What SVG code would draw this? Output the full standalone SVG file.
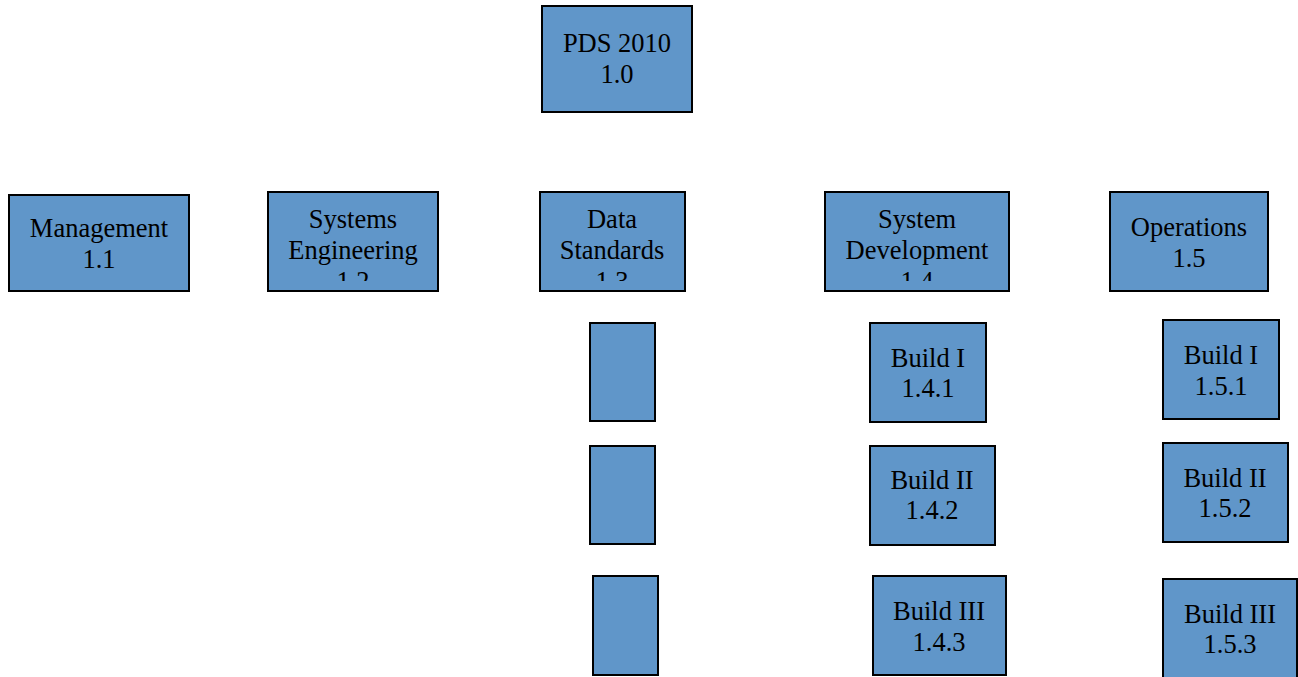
<svg xmlns="http://www.w3.org/2000/svg" width="1298" height="677" viewBox="0 0 1298 677">
<style>
.b{fill:#6096c9;stroke:#000;stroke-width:2}
.t{font-family:"Liberation Serif","Times New Roman",serif;font-size:26.5px;fill:#000;text-anchor:middle}
</style>
<defs>
<clipPath id="c12"><rect x="268" y="192" width="170" height="89"/></clipPath>
<clipPath id="c13"><rect x="540" y="192" width="145" height="89"/></clipPath>
<clipPath id="c14"><rect x="825" y="192" width="184" height="89"/></clipPath>
</defs>
<rect width="1298" height="677" fill="#fff"/>
<g id="connectors"></g>
<g id="n10"><rect class="b" x="542" y="6" width="150" height="106"/><text class="t" x="617" y="52">PDS 2010</text><text class="t" x="617" y="83">1.0</text></g>
<g id="n11"><rect class="b" x="9" y="195" width="180" height="96"/><text class="t" x="99" y="237">Management</text><text class="t" x="99" y="268">1.1</text></g>
<g id="n12"><rect class="b" x="268" y="192" width="170" height="99"/><g clip-path="url(#c12)"><text class="t" x="353" y="228">Systems</text><text class="t" x="353" y="259">Engineering</text><text class="t" x="353" y="290">1.2</text></g></g>
<g id="n13"><rect class="b" x="540" y="192" width="145" height="99"/><g clip-path="url(#c13)"><text class="t" x="612" y="228">Data</text><text class="t" x="612" y="259">Standards</text><text class="t" x="612" y="290">1.3</text></g></g>
<g id="n14"><rect class="b" x="825" y="192" width="184" height="99"/><g clip-path="url(#c14)"><text class="t" x="917" y="228">System</text><text class="t" x="917" y="259">Development</text><text class="t" x="917" y="290">1.4</text></g></g>
<g id="n15"><rect class="b" x="1110" y="192" width="158" height="99"/><text class="t" x="1189" y="236">Operations</text><text class="t" x="1189" y="267">1.5</text></g>
<g id="n131"><rect class="b" x="590" y="323" width="65" height="98"/></g>
<g id="n132"><rect class="b" x="590" y="446" width="65" height="98"/></g>
<g id="n133"><rect class="b" x="593" y="576" width="65" height="99"/></g>
<g id="n141"><rect class="b" x="870" y="323" width="116" height="99"/><text class="t" x="928" y="367">Build I</text><text class="t" x="928" y="397">1.4.1</text></g>
<g id="n142"><rect class="b" x="870" y="446" width="125" height="99"/><text class="t" x="932" y="489">Build II</text><text class="t" x="932" y="519">1.4.2</text></g>
<g id="n143"><rect class="b" x="873" y="576" width="133" height="99"/><text class="t" x="939" y="620">Build III</text><text class="t" x="939" y="651">1.4.3</text></g>
<g id="n151"><rect class="b" x="1163" y="320" width="116" height="99"/><text class="t" x="1221" y="364">Build I</text><text class="t" x="1221" y="395">1.5.1</text></g>
<g id="n152"><rect class="b" x="1163" y="443" width="125" height="99"/><text class="t" x="1225" y="487">Build II</text><text class="t" x="1225" y="517">1.5.2</text></g>
<g id="n153"><rect class="b" x="1163" y="579" width="134" height="100"/><text class="t" x="1230" y="623">Build III</text><text class="t" x="1230" y="653">1.5.3</text></g>
</svg>
